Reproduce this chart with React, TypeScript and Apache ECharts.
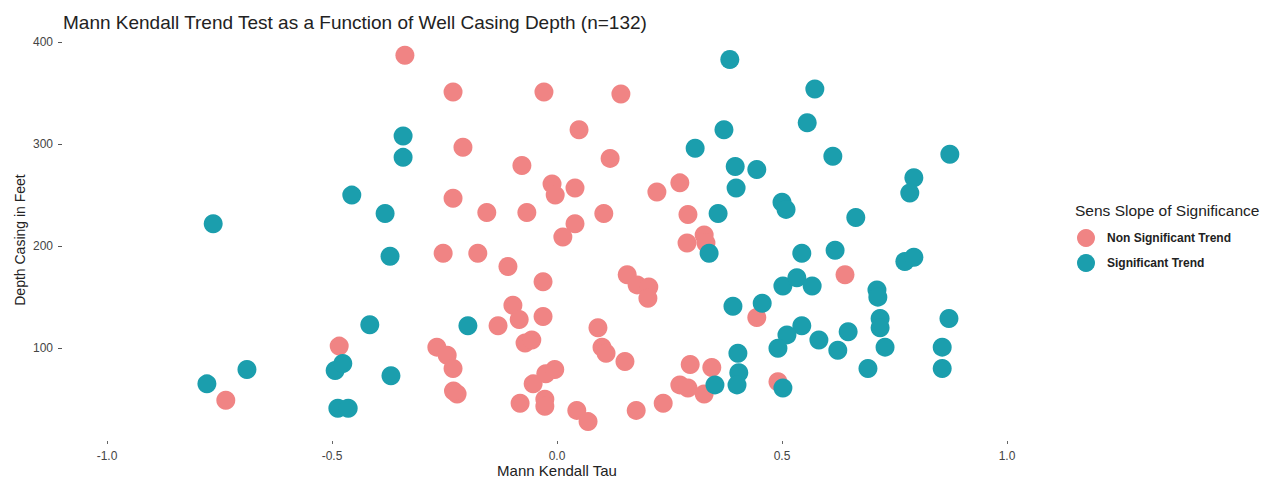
import React, { useEffect, useRef } from "react";
import * as echarts from "echarts";

const xTicks = [-1.0, -0.5, 0.0, 0.5, 1.0];
const yTicks = [100, 200, 300, 400];

const seriesNames = ["Non Significant Trend", "Significant Trend"];

const nonSignificant: [number, number][] = [
  [-0.338, 387], [-0.231, 351], [-0.029, 351], [0.142, 349], [-0.209, 297],
  [0.049, 314], [0.118, 286], [-0.078, 279], [-0.011, 261], [-0.004, 250],
  [0.04, 257], [0.273, 262], [0.222, 253], [-0.231, 247], [-0.156, 233],
  [-0.067, 233], [0.104, 232], [0.291, 231], [0.04, 222], [0.013, 209],
  [0.289, 203], [0.327, 211], [0.331, 203], [-0.253, 193], [-0.176, 193],
  [-0.109, 180], [-0.031, 165], [0.156, 172], [0.178, 162], [0.204, 160],
  [0.202, 149], [0.64, 172], [-0.098, 142], [-0.084, 128], [-0.031, 131],
  [-0.131, 122], [0.091, 120], [0.444, 130], [-0.484, 102], [-0.267, 101],
  [-0.244, 93], [-0.231, 80], [-0.222, 55], [-0.071, 105], [-0.056, 108],
  [0.1, 101], [0.109, 95], [0.151, 87], [-0.053, 65], [-0.082, 46],
  [-0.025, 75], [-0.005, 79], [-0.027, 50], [-0.027, 43], [0.044, 39],
  [0.069, 28], [0.176, 39], [0.236, 46], [0.296, 84], [0.344, 81],
  [0.273, 64], [0.291, 61], [0.327, 55], [0.491, 67], [-0.736, 49],
  [-0.23, 58]
];

const significant: [number, number][] = [
  [-0.764, 222], [-0.778, 65], [-0.689, 79], [-0.456, 250], [-0.382, 232],
  [-0.371, 190], [-0.342, 308], [-0.342, 287], [-0.416, 123], [-0.493, 78],
  [-0.476, 85], [-0.369, 73], [-0.487, 41], [-0.464, 41], [-0.198, 122],
  [0.384, 383], [0.573, 354], [0.556, 321], [0.371, 314], [0.307, 296],
  [0.613, 288], [0.873, 290], [0.396, 278], [0.444, 275], [0.398, 257],
  [0.793, 267], [0.784, 252], [0.5, 243], [0.509, 236], [0.358, 232],
  [0.664, 228], [0.338, 193], [0.544, 193], [0.618, 196], [0.773, 185],
  [0.793, 189], [0.502, 161], [0.533, 169], [0.567, 161], [0.711, 157],
  [0.713, 150], [0.391, 141], [0.456, 144], [0.871, 129], [0.544, 122],
  [0.511, 113], [0.491, 100], [0.582, 108], [0.647, 116], [0.624, 98],
  [0.718, 129], [0.718, 120], [0.729, 101], [0.856, 101], [0.856, 80],
  [0.691, 80], [0.402, 95], [0.404, 76], [0.4, 64], [0.351, 64],
  [0.502, 61]
];

const FONT = "'Liberation Sans', Arial, sans-serif";

export default function App() {
  const ref = useRef<HTMLDivElement>(null);
  useEffect(() => {
    document.body.style.margin = "0";
    if (!ref.current) return;
    const chart = echarts.init(ref.current, null, { renderer: "svg" });
    chart.setOption({
      animation: false,
      backgroundColor: "#ffffff",
      textStyle: { fontFamily: FONT },
      title: {
        text: "Mann Kendall Trend Test as a Function of Well Casing Depth (n=132)",
        left: 58,
        top: 8,
        textStyle: { fontSize: 19, fontWeight: "normal", color: "#222", fontFamily: FONT },
      },
      grid: { left: 62, right: 215, top: 39, bottom: 38, containLabel: false, outerBoundsMode: "none" },
      xAxis: {
        type: "value",
        min: -1.1,
        max: 1.1,
        axisLine: { show: false, onZero: false },
        splitLine: { show: false },
        axisTick: { show: true, length: 3, customValues: xTicks, lineStyle: { color: "#666" } },
        axisLabel: {
          customValues: xTicks,
          margin: 9,
          fontSize: 12,
          color: "#444",
          fontFamily: FONT,
          formatter: (v: number) => v.toFixed(1),
        },
      },
      yAxis: {
        type: "value",
        min: 9,
        max: 403,
        axisLine: { show: false, onZero: false },
        splitLine: { show: false },
        axisTick: { show: true, length: 4, customValues: yTicks, lineStyle: { color: "#555" } },
        axisLabel: {
          customValues: yTicks,
          margin: 9,
          fontSize: 12,
          color: "#444",
          fontFamily: FONT,
        },
      },
      legend: {
        orient: "vertical",
        left: 1072,
        top: 224,
        itemGap: 7,
        itemWidth: 18,
        itemHeight: 18,
        icon: "circle",
        data: seriesNames,
        textStyle: { fontSize: 12, fontWeight: "bold", color: "#222", fontFamily: FONT, padding: [0, 0, 0, 7] },
      },
      graphic: [
        {
          type: "text",
          left: 1075,
          top: 202,
          style: { text: "Sens Slope of Significance", fontSize: 15.5, fill: "#222", fontFamily: FONT },
        },
        {
          type: "text",
          x: 557,
          y: 470,
          style: {
            text: "Mann Kendall Tau",
            fontSize: 15,
            fill: "#222",
            fontFamily: FONT,
            align: "center",
            verticalAlign: "middle",
          },
        },
        {
          type: "text",
          x: 20,
          y: 240,
          rotation: Math.PI / 2,
          style: {
            text: "Depth Casing in Feet",
            fontSize: 14,
            fill: "#222",
            fontFamily: FONT,
            align: "center",
            verticalAlign: "middle",
          },
        },
      ],
      series: [
        {
          name: seriesNames[0],
          type: "scatter",
          data: nonSignificant,
          symbolSize: 19,
          itemStyle: { color: "#F08484", opacity: 1 },
        },
        {
          name: seriesNames[1],
          type: "scatter",
          data: significant,
          symbolSize: 19,
          itemStyle: { color: "#1B9EAD", opacity: 1 },
        },
      ],
    });
    return () => chart.dispose();
  }, []);
  return <div ref={ref} style={{ width: 1267, height: 479 }} />;
}
